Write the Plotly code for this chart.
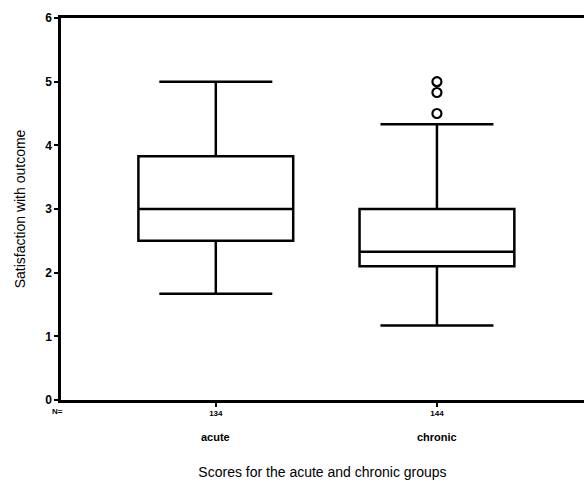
import plotly.graph_objects as go

groups = ["acute", "chronic"]
n_labels = ["134", "144"]
q1 = [2.5, 2.1]
median = [3.0, 2.33]
q3 = [3.83, 3.0]
lowerfence = [1.67, 1.17]
upperfence = [5.0, 4.33]
outlier_y = [4.5, 4.83, 5.0]
outlier_group = [1, 1, 1]
y_ticks = [0, 1, 2, 3, 4, 5, 6]

FONT = "Liberation Sans, Arial, sans-serif"
positions = list(range(len(groups)))

fig = go.Figure()
fig.add_trace(go.Box(
    x=positions, q1=q1, median=median, q3=q3,
    lowerfence=lowerfence, upperfence=upperfence,
    width=0.70, whiskerwidth=0.73,
    line=dict(color="black", width=2.5),
    fillcolor="white", boxpoints=False, showlegend=False,
    hoverinfo="skip",
))
fig.add_trace(go.Scatter(
    x=outlier_group, y=outlier_y, mode="markers",
    marker=dict(symbol="circle-open", size=9, color="black", line=dict(width=2.2)),
    showlegend=False, hoverinfo="skip",
))

for p, g in zip(positions, groups):
    fig.add_annotation(x=p, xref="x", y=-0.097, yref="paper", yanchor="middle",
                       text=g, showarrow=False,
                       font=dict(family=FONT, size=11, color="black", weight="bold"))
fig.add_annotation(x=-0.021, xref="paper", y=-0.031, yref="paper", yanchor="middle",
                   text="N=", showarrow=False,
                   font=dict(family=FONT, size=8, color="black", weight="bold"))

fig.update_layout(
    width=584, height=490,
    margin=dict(l=61, r=0, t=18, b=90),
    plot_bgcolor="white", paper_bgcolor="white",
    font=dict(family=FONT, color="black"),
    xaxis=dict(
        range=[-0.70, 1.665], tickvals=positions, ticktext=n_labels,
        tickfont=dict(size=8, color="black", weight="bold"),
        ticks="outside", ticklen=4, tickwidth=1.5, tickcolor="black",
        showline=True, linewidth=2.5, linecolor="black", mirror=True,
        showgrid=False, zeroline=False,
        title=dict(text="Scores for the acute and chronic groups",
                   font=dict(size=14, color="black"), standoff=50),
    ),
    yaxis=dict(
        range=[0, 6], tickvals=y_ticks, ticktext=[str(v) for v in y_ticks],
        tickfont=dict(size=12, color="black", weight="bold"),
        ticks="outside", ticklen=4, tickwidth=1.5, tickcolor="black",
        showline=True, linewidth=2.5, linecolor="black",
        showgrid=False, zeroline=False,
        title=dict(text="Satisfaction with outcome", font=dict(size=14, color="black"),
                   standoff=17),
    ),
)
fig.write_html("out.html")
